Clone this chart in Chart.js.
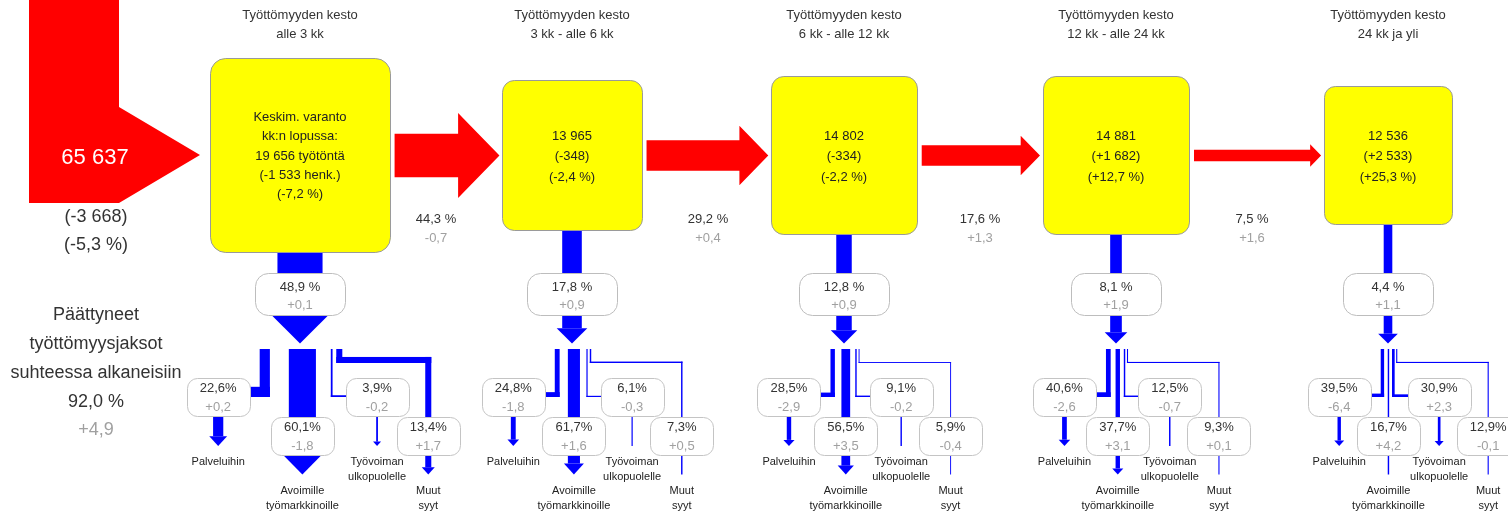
<!DOCTYPE html>
<html lang="fi">
<head>
<meta charset="utf-8">
<title>Työttömyysjaksojen kulku</title>
<script src="https://cdn.jsdelivr.net/npm/chart.js@4.4.1/dist/chart.umd.min.js"></script>
<style>
  html, body { margin: 0; padding: 0; background: #fff; }
  #wrap { width: 1508px; height: 516px; }
</style>
</head>
<body>
<div id="wrap"><canvas id="flowChart" width="1508" height="516"></canvas></div>
<script>
// Values
const durations = ['alle 3 kk', '3 kk - alle 6 kk', '6 kk - alle 12 kk', '12 kk - alle 24 kk', '24 kk ja yli'];
const stockValues = [19656, 13965, 14802, 14881, 12536];
const stockChange = [-1533, -348, -334, 1682, 2533];
const stockChangePct = [-7.2, -2.4, -2.2, 12.7, 25.3];
const transitionPct = [44.3, 29.2, 17.6, 7.5];
const transitionChange = [-0.7, 0.4, 1.3, 1.6];
const endedPct = [48.9, 17.8, 12.8, 8.1, 4.4];
const endedChange = [0.1, 0.9, 0.9, 1.9, 1.1];
const toServices = [22.6, 24.8, 28.5, 40.6, 39.5];
const toServicesChange = [0.2, -1.8, -2.9, -2.6, -6.4];
const toOpenMarket = [60.1, 61.7, 56.5, 37.7, 16.7];
const toOpenMarketChange = [-1.8, 1.6, 3.5, 3.1, 4.2];
const outOfLabour = [3.9, 6.1, 9.1, 12.5, 30.9];
const outOfLabourChange = [-0.2, -0.3, -0.2, -0.7, 2.3];
const otherReasons = [13.4, 7.3, 5.9, 9.3, 12.9];
const otherReasonsChange = [1.7, 0.5, -0.4, 0.1, -0.1];
const inflowTotal = 65637;
const inflowChange = -3668;
const inflowChangePct = -5.3;
const endedVsStarted = 92.0;
const endedVsStartedChange = 4.9;

const FONT = '"Liberation Sans", Arial, sans-serif';
const RED = '#ff0000';
const BLUE = '#0000ff';
const DARK = '#333333';
const GREY = '#a0a0a0';

// number formatting, Finnish style
function fmtInt(n) {
  const s = String(Math.abs(n)).replace(/\B(?=(\d{3})+(?!\d))/g, ' ');
  return n < 0 ? '-' + s : s;
}
function fmtDec(v) { return Math.abs(v).toFixed(1).replace('.', ','); }
function signed(v) { return (v < 0 ? '-' : '+') + fmtDec(v); }
function signedInt(v) { return (v < 0 ? '-' : '+') + fmtInt(Math.abs(v)); }

// layout helpers (pixel units on the hidden scales)
const colCenter = i => 300 + 272 * i;
const boxW = s => 1.82 * Math.sqrt(s) - 76;
const boxH = s => 2 * Math.sqrt(s) - 86;
const redWidth = p => 5 + 0.87 * p;
const blueWidth = p => 5 + 0.82 * p;

const flowPlugin = {
  id: 'flowDiagram',
  afterDraw(chart) {
    const ctx = chart.ctx;
    const X = v => chart.scales.x.getPixelForValue(v);
    const Y = v => chart.scales.y.getPixelForValue(v);

    const rect = (x, y, w, h, color) => {
      ctx.fillStyle = color;
      ctx.fillRect(X(x), Y(y), X(x + w) - X(x), Y(y + h) - Y(y));
    };
    const poly = (pts, color) => {
      ctx.fillStyle = color;
      ctx.beginPath();
      pts.forEach((p, i) => i ? ctx.lineTo(X(p[0]), Y(p[1])) : ctx.moveTo(X(p[0]), Y(p[1])));
      ctx.closePath();
      ctx.fill();
    };
    const rrect = (x, y, w, h, r, fill, stroke) => {
      const x0 = Math.round(X(x)) + 0.5, y0 = Math.round(Y(y)) + 0.5;
      const x1 = Math.round(X(x + w)) + 0.5, y1 = Math.round(Y(y + h)) + 0.5;
      ctx.beginPath();
      ctx.moveTo(x0 + r, y0);
      ctx.arcTo(x1, y0, x1, y1, r);
      ctx.arcTo(x1, y1, x0, y1, r);
      ctx.arcTo(x0, y1, x0, y0, r);
      ctx.arcTo(x0, y0, x1, y0, r);
      ctx.closePath();
      ctx.fillStyle = fill;
      ctx.fill();
      ctx.lineWidth = 1;
      ctx.strokeStyle = stroke;
      ctx.stroke();
    };
    const text = (str, x, y, size, color) => {
      ctx.font = size + 'px ' + FONT;
      ctx.fillStyle = color;
      ctx.textAlign = 'center';
      ctx.textBaseline = 'middle';
      ctx.fillText(str, X(x), Y(y));
    };
    // downward arrow: body of width w from y0, tip at y1
    const downArrow = (cx, w, y0, y1, ext, maxHead) => {
      if (w < 1.5) {
        rect(cx - Math.max(w, 0.8) / 2, y0, Math.max(w, 0.8), y1 - y0, BLUE);
        return;
      }
      const hw = w + 2 * ext;
      const hl = Math.min(hw * 0.55, maxHead);
      if (y1 - hl > y0) rect(cx - w / 2, y0, w, y1 - hl - y0, BLUE);
      const hs = Math.max(y0, y1 - hl);
      poly([[cx - hw / 2, hs], [cx + hw / 2, hs], [cx, y1]], BLUE);
    };

    ctx.save();

    // inflow arrow on the left
    poly([[29, -5], [119, -5], [119, 107], [200, 155], [119, 203], [29, 203]], RED);
    text(fmtInt(inflowTotal), 95, 158, 22, '#ffffff');
    text('(' + fmtInt(inflowChange) + ')', 96, 217, 18, DARK);
    text('(' + fmtDec(inflowChangePct).replace(/^/, inflowChangePct < 0 ? '-' : '+') + ' %)', 96, 245, 18, DARK);

    // ended periods vs started
    text('Päättyneet', 96, 315, 18, DARK);
    text('työttömyysjaksot', 96, 344, 18, DARK);
    text('suhteessa alkaneisiin', 96, 373, 18, DARK);
    text(fmtDec(endedVsStarted) + ' %', 96, 402, 18, DARK);
    text(signed(endedVsStartedChange), 96, 430, 18, GREY);

    const boxes = stockValues.map((s, i) => {
      const c = colCenter(i), w = boxW(s), h = boxH(s);
      return { c, left: c - w / 2, right: c + w / 2, top: 155 - h / 2, bottom: 155 + h / 2, w, h };
    });

    // red transition arrows between the boxes
    transitionPct.forEach((p, i) => {
      const x0 = boxes[i].right + 5, x1 = boxes[i + 1].left - 3;
      const bw = redWidth(p), hh = bw * 0.975, hl = bw * 0.95, cy = 155.5;
      poly([[x0, cy - bw / 2], [x1 - hl, cy - bw / 2], [x1 - hl, cy - hh], [x1, cy],
            [x1 - hl, cy + hh], [x1 - hl, cy + bw / 2], [x0, cy + bw / 2]], RED);
      text(fmtDec(p) + ' %', colCenter(i) + 136, 219, 13, DARK);
      text(signed(transitionChange[i]), colCenter(i) + 136, 238, 13, GREY);
    });

    boxes.forEach((b, i) => {
      const c = b.c;
      // header
      text('Työttömyyden kesto', c, 15, 13, DARK);
      text(durations[i], c, 34, 13, DARK);

      // main blue flow out of the box
      const W = blueWidth(endedPct[i]);
      rect(c - W / 2, b.bottom - 1, W, 282 - b.bottom, BLUE);
      const hw = W + 11, hl = hw * 0.5, tip = 343.5;
      if (tip - hl > 300) rect(c - W / 2, 300, W, tip - hl - 300, BLUE);
      poly([[c - hw / 2, tip - hl], [c + hw / 2, tip - hl], [c, tip]], BLUE);

      // yellow stock box
      rrect(b.left, b.top, b.w, b.h, b.w * 0.085, '#ffff00', '#9a9a9a');
      let lines;
      if (i === 0) {
        lines = ['Keskim. varanto', 'kk:n lopussa:', fmtInt(stockValues[i]) + ' työtöntä',
                 '(' + signedInt(stockChange[i]).replace('+', '') + ' henk.)',
                 '(' + signed(stockChangePct[i]) + ' %)'];
      } else {
        lines = [fmtInt(stockValues[i]), '(' + signedInt(stockChange[i]) + ')',
                 '(' + signed(stockChangePct[i]) + ' %)'];
      }
      if (i === 0 && stockChange[i] > 0) lines[3] = '(+' + fmtInt(stockChange[i]) + ' henk.)';
      const lh = i === 0 ? 19.3 : 20.5;
      const ly = i === 0 ? 156 : 156.5;
      lines.forEach((t, k) => text(t, c, ly + (k - (lines.length - 1) / 2) * lh, 13, '#222222'));

      // main pill
      rrect(c - 45, 273, 90, 42, 13, '#ffffff', '#bdbdbd');
      text(fmtDec(endedPct[i]) + ' %', c, 287, 13, DARK);
      text(signed(endedChange[i]), c, 305, 13, GREY);

      // split into four sub-flows
      const pw = W * toServices[i] / 100;
      const aw = W * toOpenMarket[i] / 100;
      const tw = W * outOfLabour[i] / 100;
      const mw = W * otherReasons[i] / 100;
      const g1 = W * 0.42, g2 = W * 0.33, g3 = 1 + W * 0.06;
      const span = pw + g1 + aw + g2 + tw + g3 + mw;
      const palvL = c + 1 - span / 2;
      const avoL = palvL + pw + g1;
      const tyoL = avoL + aw + g2;
      const muutL = tyoL + tw + g3;
      const top = 349;

      const pillW = 63;
      const palvPillR = palvL - 10;
      const palvC = palvPillR - pillW / 2;
      const tyoC = tyoL + Math.max(tw, 1) + 13 + pillW / 2;
      const avoC = avoL + aw / 2;
      const muutC = muutL + 92;

      // palveluihin: down then left
      rect(palvL, top, Math.max(pw, 0.8), 397 - top, BLUE);
      rect(palvPillR - 2, 397 - Math.max(pw, 0.8), palvL + pw - palvPillR + 2, Math.max(pw, 0.8), BLUE);
      // avoimille: straight down
      rect(avoL, top, Math.max(aw, 0.8), 420 - top, BLUE);
      // työvoiman ulkopuolelle: down then right
      rect(tyoL, top, Math.max(tw, 0.8), 397 - top, BLUE);
      rect(tyoL, 397 - Math.max(tw, 0.8), tyoC - pillW / 2 + 2 - tyoL, Math.max(tw, 0.8), BLUE);
      // muut syyt: down, right, down
      const mwd = Math.max(mw, 0.8);
      rect(muutL, top, mwd, 363 - top, BLUE);
      rect(muutL, 363 - mwd, muutC + mwd / 2 - muutL, mwd, BLUE);
      rect(muutC - mwd / 2, 363 - mwd, mwd, 420 - 363 + mwd, BLUE);

      // arrows out of the sub pills
      const ext = w => 3 + w * 0.08;
      downArrow(palvC, pw, 410, 446, ext(pw), 19);
      downArrow(tyoC, tw, 410, 446, ext(tw), 19);
      downArrow(avoC, aw, 450, 474.5, ext(aw), 19);
      downArrow(muutC, mw, 450, 474.5, ext(mw), 19);

      // sub pills
      const subPill = (cx, y, v, d) => {
        rrect(cx - pillW / 2, y, pillW, 38, 10, '#ffffff', '#c4c4c4');
        text(fmtDec(v) + '%', cx, y + 10.5, 13, DARK);
        text(signed(d), cx, y + 29, 13, GREY);
      };
      subPill(palvC, 378, toServices[i], toServicesChange[i]);
      subPill(tyoC, 378, outOfLabour[i], outOfLabourChange[i]);
      subPill(avoC, 417, toOpenMarket[i], toOpenMarketChange[i]);
      subPill(muutC, 417, otherReasons[i], otherReasonsChange[i]);

      // destination labels
      text('Palveluihin', palvC, 462, 11, '#222222');
      text('Työvoiman', tyoC, 462, 11, '#222222');
      text('ulkopuolelle', tyoC, 477, 11, '#222222');
      text('Avoimille', avoC, 491, 11, '#222222');
      text('työmarkkinoille', avoC, 506, 11, '#222222');
      text('Muut', muutC, 491, 11, '#222222');
      text('syyt', muutC, 506, 11, '#222222');
    });

    ctx.restore();
  }
};

new Chart(document.getElementById('flowChart'), {
  type: 'scatter',
  data: { datasets: [{ data: [] }] },
  options: {
    responsive: false,
    animation: false,
    events: [],
    layout: { padding: 0 },
    plugins: { legend: { display: false }, tooltip: { enabled: false } },
    scales: {
      x: { type: 'linear', min: 0, max: 1508, display: false },
      y: { type: 'linear', min: 0, max: 516, reverse: true, display: false }
    }
  },
  plugins: [flowPlugin]
});
</script>
</body>
</html>
